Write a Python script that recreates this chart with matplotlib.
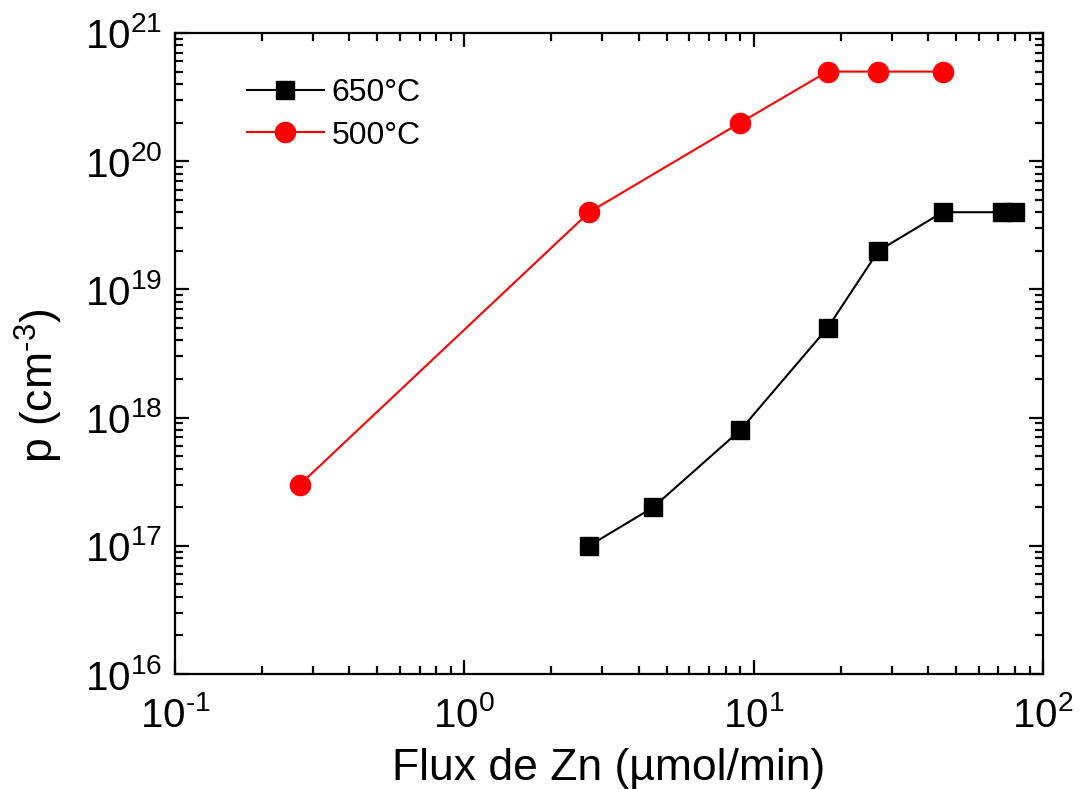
import numpy as np
import matplotlib.pyplot as plt
from matplotlib.ticker import LogLocator, FuncFormatter

plt.rcParams['font.family'] = ['Liberation Sans', 'DejaVu Sans']
plt.rcParams['mathtext.fontset'] = 'custom'
plt.rcParams['mathtext.rm'] = 'Liberation Sans'
plt.rcParams['mathtext.it'] = 'Liberation Sans'
plt.rcParams['mathtext.default'] = 'regular'

# 650 C series
flux_650 = [2.7, 4.5, 9, 18, 27, 45, 72, 80]
p_650 = [1e17, 2e17, 8e17, 5e18, 2e19, 4e19, 4e19, 4e19]

# 500 C series
flux_500 = [0.27, 2.7, 9, 18, 27, 45]
p_500 = [3e17, 4e19, 2e20, 5e20, 5e20, 5e20]


def pow10(v, pos):
    e = int(round(np.log10(v)))
    if e < 0:
        return r'$10^{\text{-}%d}$' % (-e)
    return r'$10^{%d}$' % e


fig = plt.figure(figsize=(10.8, 7.89), dpi=100)
ax = fig.add_axes([175/1080, 1 - 674/789, (1043-175)/1080, (674-33)/789])

ax.plot(flux_650, p_650, color='black', lw=1.5, marker='s', ms=13, label='650°C')
ax.plot(flux_500, p_500, color='red', lw=1.5, marker='o', ms=14.5, label='500°C')

ax.set_xscale('log')
ax.set_yscale('log')
ax.set_xlim(0.1, 100)
ax.set_ylim(1e16, 1e21)

ax.xaxis.set_major_locator(LogLocator(base=10, numticks=10))
ax.yaxis.set_major_locator(LogLocator(base=10, numticks=10))
ax.xaxis.set_minor_locator(LogLocator(base=10, subs=np.arange(2, 10), numticks=10))
ax.yaxis.set_minor_locator(LogLocator(base=10, subs=np.arange(2, 10), numticks=10))
ax.xaxis.set_major_formatter(FuncFormatter(pow10))
ax.yaxis.set_major_formatter(FuncFormatter(pow10))

ax.tick_params(which='both', direction='in', top=True, right=True, width=1.6)
ax.tick_params(which='major', length=10, labelsize=29)
ax.tick_params(axis='x', which='major', pad=16)
ax.tick_params(axis='y', which='major', pad=9)
ax.tick_params(which='minor', length=6)
for s in ax.spines.values():
    s.set_linewidth(1.6)

ax.set_xlabel('Flux de Zn (µmol/min)', fontsize=32, labelpad=9)
ax.set_ylabel(r'p (cm$^{\text{-}3}$)', fontsize=32)
ax.yaxis.set_label_coords(-0.127, 0.45)

ax.legend(loc='upper left', bbox_to_anchor=(0.05, 0.975), frameon=False,
          fontsize=23, handlelength=2.4, handletextpad=0.25, labelspacing=0.4)

fig.savefig('out.png', dpi=100)
